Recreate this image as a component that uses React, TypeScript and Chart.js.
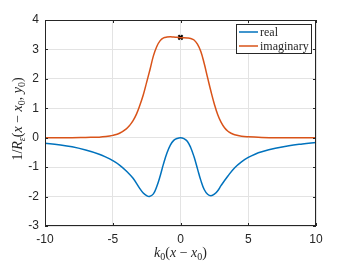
import React, { useEffect, useRef } from "react";
import { Chart, registerables } from "chart.js";

Chart.register(...registerables);

const realX = [-10, -9, -8, -7, -6, -5.5, -5, -4.5, -4, -3.5, -3, -2.75, -2.5, -2.3, -2, -1.75, -1.5, -1.25, -1, -0.75, -0.5, -0.25, 0, 0.25, 0.5, 0.75, 1, 1.25, 1.5, 1.75, 2, 2.25, 2.5, 2.75, 3, 3.5, 4, 4.5, 5, 5.5, 6, 7, 8, 9, 10];
const realY = [-0.19, -0.24, -0.31, -0.42, -0.56, -0.66, -0.78, -0.93, -1.13, -1.38, -1.73, -1.88, -1.97, -2.0, -1.91, -1.66, -1.3, -0.88, -0.52, -0.25, -0.09, -0.025, 0, -0.03, -0.12, -0.33, -0.65, -1.05, -1.45, -1.76, -1.92, -1.97, -1.92, -1.8, -1.62, -1.3, -1.02, -0.82, -0.67, -0.56, -0.48, -0.36, -0.27, -0.21, -0.16];

const imagX = [-10, -8, -7, -6, -5.5, -5, -4.5, -4, -3.75, -3.5, -3.25, -3, -2.75, -2.5, -2.25, -2, -1.75, -1.5, -1.25, -1, -0.75, -0.5, -0.25, 0, 0.25, 0.5, 0.75, 1, 1.25, 1.5, 1.75, 2, 2.25, 2.5, 2.75, 3, 3.25, 3.5, 3.75, 4, 4.5, 5, 6, 7, 10];
const imagY = [0, 0, 0.01, 0.02, 0.04, 0.08, 0.15, 0.3, 0.42, 0.58, 0.8, 1.1, 1.45, 1.88, 2.32, 2.78, 3.1, 3.3, 3.39, 3.42, 3.43, 3.42, 3.41, 3.4, 3.4, 3.39, 3.37, 3.32, 3.18, 2.93, 2.52, 2.04, 1.57, 1.14, 0.78, 0.52, 0.34, 0.22, 0.15, 0.1, 0.05, 0.03, 0.01, 0, 0];

const markerX = [0];
const markerY = [3.41];

const seriesNames = ["real", "imaginary"];
const xTicks = [-10, -5, 0, 5, 10];
const yTicks = [-3, -2, -1, 0, 1, 2, 3, 4];

const BLUE = "#0072BD";
const ORANGE = "#D95319";
const AXIS = "#262626";

type Seg = { t: string; it?: boolean; sub?: boolean };

function drawMath(ctx: CanvasRenderingContext2D, segs: Seg[], cx: number, cy: number, size: number) {
  const fam = '"Liberation Serif", "DejaVu Serif", serif';
  const fontFor = (s: Seg) => `${s.it ? "italic " : ""}${s.sub ? Math.round(size * 0.7) : size}px ${fam}`;
  let total = 0;
  const widths = segs.map((s) => {
    ctx.font = fontFor(s);
    const w = ctx.measureText(s.t).width;
    total += w;
    return w;
  });
  let x = cx - total / 2;
  ctx.textBaseline = "alphabetic";
  ctx.textAlign = "left";
  segs.forEach((s, i) => {
    ctx.font = fontFor(s);
    ctx.fillText(s.t, x, cy + size * 0.35 + (s.sub ? size * 0.25 : 0));
    x += widths[i];
  });
}

const decorPlugin = {
  id: "decor",
  afterDraw(chart: any) {
    const { ctx, chartArea } = chart;
    const { left, right, top, bottom } = chartArea;
    const xs = chart.scales.x;
    const ys = chart.scales.y;
    ctx.save();
    ctx.strokeStyle = AXIS;
    ctx.lineWidth = 1;
    ctx.strokeRect(Math.round(left) + 0.5, Math.round(top) + 0.5, Math.round(right - left) - 1, Math.round(bottom - top) - 1);
    const tl = 3;
    ctx.beginPath();
    xTicks.forEach((v) => {
      const px = Math.round(xs.getPixelForValue(v)) + 0.5;
      ctx.moveTo(px, bottom);
      ctx.lineTo(px, bottom - tl);
      ctx.moveTo(px, top);
      ctx.lineTo(px, top + tl);
    });
    yTicks.forEach((v) => {
      const py = Math.round(ys.getPixelForValue(v)) + 0.5;
      ctx.moveTo(left, py);
      ctx.lineTo(left + tl, py);
      ctx.moveTo(right, py);
      ctx.lineTo(right - tl, py);
    });
    ctx.stroke();

    // legend
    const lx = 236, ly = 24, lw = 76, lh = 30;
    ctx.fillStyle = "#ffffff";
    ctx.fillRect(lx, ly, lw, lh);
    ctx.strokeStyle = AXIS;
    ctx.strokeRect(lx + 0.5, ly + 0.5, lw - 1, lh - 1);
    const cols = [BLUE, ORANGE];
    seriesNames.forEach((n, i) => {
      const yy = ly + 8 + i * 14;
      ctx.strokeStyle = cols[i];
      ctx.lineWidth = 1.5;
      ctx.beginPath();
      ctx.moveTo(lx + 3, yy);
      ctx.lineTo(lx + 22, yy);
      ctx.stroke();
      ctx.fillStyle = AXIS;
      ctx.font = '12px "Liberation Serif", "DejaVu Serif", serif';
      ctx.textAlign = "left";
      ctx.textBaseline = "middle";
      ctx.fillText(n, lx + 24, yy + 0.5);
    });

    // axis titles
    ctx.fillStyle = AXIS;
    drawMath(
      ctx,
      [{ t: "k", it: true }, { t: "0", sub: true }, { t: "(" }, { t: "x", it: true }, { t: " − " }, { t: "x", it: true }, { t: "0", sub: true }, { t: ")" }],
      180.5,
      252,
      14
    );
    ctx.save();
    ctx.translate(17, 119);
    ctx.rotate(-Math.PI / 2);
    drawMath(
      ctx,
      [
        { t: "1/" },
        { t: "R", it: true },
        { t: "ε", it: true, sub: true },
        { t: "(" },
        { t: "x", it: true },
        { t: " − " },
        { t: "x", it: true },
        { t: "0", sub: true },
        { t: ", " },
        { t: "y", it: true },
        { t: "0", sub: true },
        { t: ")" },
      ],
      0,
      0,
      14
    );
    ctx.restore();
    ctx.restore();
  },
};

export default function App() {
  const ref = useRef<HTMLCanvasElement>(null);
  useEffect(() => {
    document.body.style.margin = "0";
    const canvas = ref.current!;
    const chart = new Chart(canvas, {
      type: "line",
      data: {
        datasets: [
          {
            label: seriesNames[0],
            data: realX.map((x, i) => ({ x, y: realY[i] })),
            borderColor: BLUE,
            borderWidth: 1.5,
            pointRadius: 0,
            tension: 0.4,
          },
          {
            label: seriesNames[1],
            data: imagX.map((x, i) => ({ x, y: imagY[i] })),
            borderColor: ORANGE,
            borderWidth: 1.5,
            pointRadius: 0,
            tension: 0.4,
          },
          {
            label: "marker",
            data: markerX.map((x, i) => ({ x, y: markerY[i] })),
            showLine: false,
            pointStyle: "crossRot",
            pointRadius: 3,
            borderColor: "#000000",
            backgroundColor: "#000000",
            pointBorderWidth: 2,
          },
        ],
      },
      options: {
        responsive: false,
        animation: false,
        layout: { padding: { top: 20, right: 33, left: 0, bottom: 0 } },
        plugins: { legend: { display: false }, tooltip: { enabled: false } },
        scales: {
          x: {
            type: "linear",
            min: -10,
            max: 10,
            afterFit: (s: any) => {
              s.height = 36;
            },
            afterBuildTicks: (s: any) => {
              s.ticks = xTicks.map((v) => ({ value: v }));
            },
            grid: { color: "#e3e3e3", drawTicks: false },
            border: { display: false },
            ticks: { padding: 6, color: AXIS, font: { family: '"Liberation Sans", Arial, sans-serif', size: 12 } },
          },
          y: {
            type: "linear",
            min: -3,
            max: 4,
            afterFit: (s: any) => {
              s.width = 45;
            },
            afterBuildTicks: (s: any) => {
              s.ticks = yTicks.map((v) => ({ value: v }));
            },
            grid: { color: "#e3e3e3", drawTicks: false },
            border: { display: false },
            ticks: { padding: 6, color: AXIS, font: { family: '"Liberation Sans", Arial, sans-serif', size: 12 } },
          },
        },
      },
      plugins: [decorPlugin],
    } as any);
    return () => chart.destroy();
  }, []);
  return <canvas ref={ref} width={349} height={262} style={{ display: "block" }} />;
}
